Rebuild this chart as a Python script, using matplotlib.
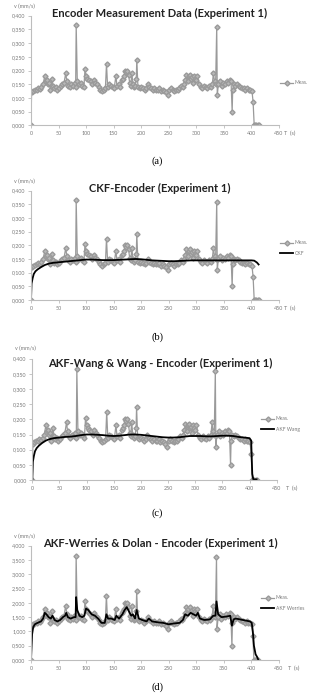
import numpy as np
import matplotlib.pyplot as plt

# measured encoder velocity (mm/s)
t_meas = [0, 1, 4, 7, 10, 13, 16, 19, 22, 25, 27, 29, 31, 33, 35, 38, 40, 42, 45, 48,
          51, 54, 57, 60, 63, 65, 67, 70, 73, 76, 79, 81, 82, 84, 87, 90, 93, 96, 98, 100,
          102, 105, 108, 111, 114, 117, 120, 123, 126, 129, 132, 135, 137, 139, 142, 145, 148, 151, 154, 156,
          159, 162, 165, 167, 169, 171, 173, 175, 177, 179, 181, 183, 185, 187, 189, 191, 192, 194, 197, 200,
          203, 206, 209, 212, 215, 218, 221, 224, 227, 230, 233, 236, 239, 242, 245, 248, 251, 254, 257, 260,
          263, 266, 269, 272, 275, 278, 280, 282, 284, 286, 288, 290, 292, 294, 296, 298, 300, 302, 305, 308,
          311, 314, 317, 320, 323, 326, 329, 331, 333, 335, 337, 338, 340, 343, 346, 349, 352, 355, 358, 361,
          363, 365, 366, 368, 371, 374, 377, 380, 383, 386, 389, 392, 395, 398, 401, 403, 405, 407, 409, 411, 413]
v_meas = [0.000, 0.120, 0.125, 0.128, 0.130, 0.135, 0.132, 0.140, 0.150, 0.180, 0.160, 0.165, 0.150, 0.155, 0.130, 0.170, 0.145, 0.135, 0.140, 0.130,
          0.135, 0.145, 0.150, 0.155, 0.190, 0.160, 0.145, 0.140, 0.150, 0.145, 0.155, 0.140, 0.365, 0.160, 0.150, 0.155, 0.145, 0.140, 0.205, 0.180,
          0.170, 0.165, 0.160, 0.150, 0.165, 0.155, 0.150, 0.140, 0.130, 0.125, 0.130, 0.135, 0.225, 0.140, 0.150, 0.145, 0.140, 0.135, 0.180, 0.145,
          0.150, 0.140, 0.165, 0.170, 0.180, 0.200, 0.195, 0.200, 0.185, 0.155, 0.145, 0.190, 0.150, 0.140, 0.145, 0.170, 0.240, 0.140, 0.135, 0.140,
          0.135, 0.130, 0.135, 0.150, 0.140, 0.135, 0.130, 0.135, 0.130, 0.130, 0.135, 0.125, 0.130, 0.125, 0.120, 0.110, 0.130, 0.135, 0.130, 0.125,
          0.130, 0.130, 0.135, 0.145, 0.140, 0.150, 0.165, 0.185, 0.160, 0.180, 0.185, 0.170, 0.175, 0.155, 0.180, 0.170, 0.165, 0.180, 0.150, 0.140,
          0.135, 0.145, 0.140, 0.135, 0.145, 0.140, 0.150, 0.190, 0.160, 0.150, 0.360, 0.110, 0.150, 0.160, 0.145, 0.155, 0.150, 0.160, 0.155, 0.165,
          0.160, 0.050, 0.130, 0.150, 0.145, 0.150, 0.145, 0.140, 0.135, 0.135, 0.130, 0.135, 0.130, 0.130, 0.125, 0.085, 0.000, 0.000, 0.000, 0.000, 0.000]

# CKF estimate
t_ckf = [0, 1, 3, 5, 8, 12, 18, 25, 32, 40, 50, 60, 70, 80, 90, 100, 110, 120, 130, 140, 150, 160, 170, 180, 190,
         200, 210, 220, 230, 240, 250, 260, 270, 280, 290, 300, 310, 320, 330, 340, 350, 360, 370, 380, 390, 400, 405, 410, 413]
v_ckf = [0, 0.06, 0.08, 0.095, 0.105, 0.112, 0.12, 0.128, 0.133, 0.136, 0.138, 0.14, 0.142, 0.144, 0.146, 0.148, 0.148,
         0.147, 0.146, 0.146, 0.146, 0.147, 0.148, 0.149, 0.150, 0.149, 0.147, 0.145, 0.144, 0.143, 0.142, 0.142, 0.143,
         0.144, 0.145, 0.145, 0.145, 0.145, 0.145, 0.145, 0.145, 0.145, 0.145, 0.145, 0.145, 0.145, 0.144, 0.137, 0.130]

# AKF Wang & Wang estimate
t_wang = [0, 1, 3, 5, 8, 12, 18, 25, 32, 40, 50, 60, 70, 80, 90, 100, 110, 120, 130, 140, 150, 160, 170, 180, 190,
          200, 210, 220, 230, 240, 250, 260, 270, 280, 290, 300, 310, 320, 330, 340, 350, 360, 370, 380, 390, 400,
          403, 405, 407, 410, 413]
v_wang = [0, 0.06, 0.08, 0.095, 0.105, 0.113, 0.122, 0.13, 0.135, 0.138, 0.14, 0.142, 0.143, 0.145, 0.148, 0.15, 0.15,
          0.149, 0.148, 0.146, 0.145, 0.146, 0.148, 0.15, 0.15, 0.149, 0.147, 0.145, 0.143, 0.141, 0.14, 0.14, 0.141,
          0.143, 0.145, 0.145, 0.145, 0.144, 0.144, 0.145, 0.146, 0.146, 0.145, 0.142, 0.14, 0.138, 0.13, 0.02,
          0.002, 0.002, 0.002]

# AKF Werries & Dolan estimate (panel d scale)
t_werr = [0, 2, 4, 7, 12, 18, 22, 25, 28, 32, 36, 39, 43, 48, 53, 58, 62, 64, 67, 72, 78, 81, 82, 84, 88, 93, 97,
          100, 104, 110, 116, 122, 128, 134, 137, 140, 146, 152, 155, 160, 166, 170, 174, 178, 182, 185, 189, 192,
          196, 202, 210, 214, 220, 230, 240, 250, 260, 270, 276, 280, 285, 290, 295, 300, 303, 307, 315, 325, 331,
          335, 337, 340, 346, 355, 362, 365, 368, 372, 380, 390, 398, 401, 403, 405, 408, 411, 413]
v_werr = [0, 0.9, 1.15, 1.25, 1.3, 1.35, 1.45, 1.65, 1.6, 1.5, 1.45, 1.55, 1.4, 1.35, 1.4, 1.5, 1.55, 1.65, 1.5,
          1.45, 1.5, 1.5, 2.2, 1.75, 1.55, 1.5, 1.55, 1.8, 1.75, 1.6, 1.55, 1.45, 1.3, 1.3, 1.6, 1.45, 1.45, 1.4,
          1.55, 1.45, 1.6, 1.75, 1.85, 1.7, 1.55, 1.6, 1.45, 1.75, 1.45, 1.4, 1.35, 1.45, 1.35, 1.32, 1.3, 1.25,
          1.28, 1.3, 1.4, 1.6, 1.55, 1.65, 1.6, 1.55, 1.65, 1.45, 1.4, 1.42, 1.55, 1.55, 2.05, 1.6, 1.5, 1.52,
          1.55, 1.2, 1.42, 1.45, 1.42, 1.38, 1.35, 1.3, 1.0, 0.5, 0.2, 0.1, 0.0]

titles = ["Encoder Measurement Data (Experiment 1)", "CKF-Encoder (Experiment 1)",
          "AKF-Wang & Wang - Encoder (Experiment 1)", "AKF-Werries & Dolan - Encoder (Experiment 1)"]
captions = ["(a)", "(b)", "(c)", "(d)"]

W, H = 314, 700
fig = plt.figure(figsize=(W / 100, H / 100), dpi=100)

gray = "#9a9a9a"
axcol = "#bdbdbd"
tickcol = "#7a7a7a"


def fy(px):
    return 1 - px / H


def panel(i, left, right, top, bottom, scale, yticks, ytl, fits, title_y, cap_y, leg_x, leg_y, tx):
    ax = fig.add_axes([left / W, fy(bottom), (right - left) / W, (bottom - top) / H])
    v = np.array(v_meas) * scale
    ax.plot(t_meas, v, color=gray, lw=0.9, marker="D", ms=2.6, mec=gray, mfc="#b8b8b8", label="Meas.")
    for tt, vv, lab in fits:
        ax.plot(tt, vv, color="black", lw=1.3, label=lab)
    ax.set_xlim(0, 450)
    ax.set_ylim(0, yticks[-1])
    ax.set_xticks(range(0, 451, 50))
    ax.set_yticks(yticks)
    ax.set_yticklabels(ytl)
    for s in ["top", "right"]:
        ax.spines[s].set_visible(False)
    for s in ["left", "bottom"]:
        ax.spines[s].set_color(axcol)
        ax.spines[s].set_linewidth(0.8)
    ax.tick_params(labelsize=3.9, colors=axcol, labelcolor=tickcol, length=2, width=0.6, pad=2)
    for lab in ax.get_xticklabels() + ax.get_yticklabels():
        lab.set_family("Lato")
    ax.text(-0.07, 1.06, "v (mm/s)", transform=ax.transAxes, fontsize=3.9, color=tickcol,
            family="Lato", ha="left", va="bottom")
    ax.annotate("T  (s)", xy=(1.0, 0.0), xycoords="axes fraction", xytext=(tx, -4),
                textcoords="offset points", fontsize=3.9, color=tickcol, family="Lato",
                ha="left", va="top")
    fig.text(160 / W, fy(title_y), titles[i], fontsize=8.0, fontweight="bold", family="Lato",
             ha="center", va="center", color="#222222")
    fig.text(157 / W, fy(cap_y), captions[i], fontsize=7.5, family="Liberation Serif",
             ha="center", va="center")
    leg = ax.legend(loc="center left", bbox_to_anchor=(leg_x / W, fy(leg_y)),
                    bbox_transform=fig.transFigure, frameon=False, fontsize=3.6,
                    handlelength=2.6, labelspacing=1.1, handletextpad=0.3,
                    borderaxespad=0, borderpad=0)
    for txt in leg.get_texts():
        txt.set_color(tickcol)
        txt.set_family("Lato")
    return ax


yt1 = [0, 0.05, 0.1, 0.15, 0.2, 0.25, 0.3, 0.35, 0.4]
ytl1 = ["0,000", "0,050", "0,100", "0,150", "0,200", "0,250", "0,300", "0,350", "0,400"]
yt4 = [0, 0.5, 1.0, 1.5, 2.0, 2.5, 3.0, 3.5, 4.0]
ytl4 = ["0,000", "0,500", "1,000", "1,500", "2,000", "2,500", "3,000", "3,500", "4,000"]

panel(0, 31, 279, 15.7, 125.3, 1, yt1, ytl1, [], 13, 161, 280, 83, 3.5)
panel(1, 31, 279, 190.7, 300, 1, yt1, ytl1, [(t_ckf, v_ckf, "CKF")], 188, 337, 280, 248, 3.5)
panel(2, 32.3, 276.7, 358.7, 480, 1, yt1, ytl1, [(t_wang, v_wang, "AKF Wang")], 363, 513, 261, 424, 6.5)
panel(3, 31, 278.7, 545.7, 660, 10, yt4, ytl4, [(t_werr, v_werr, "AKF Werries")], 543, 687, 261, 603, 6.5)

fig.savefig("out.png", dpi=100)
